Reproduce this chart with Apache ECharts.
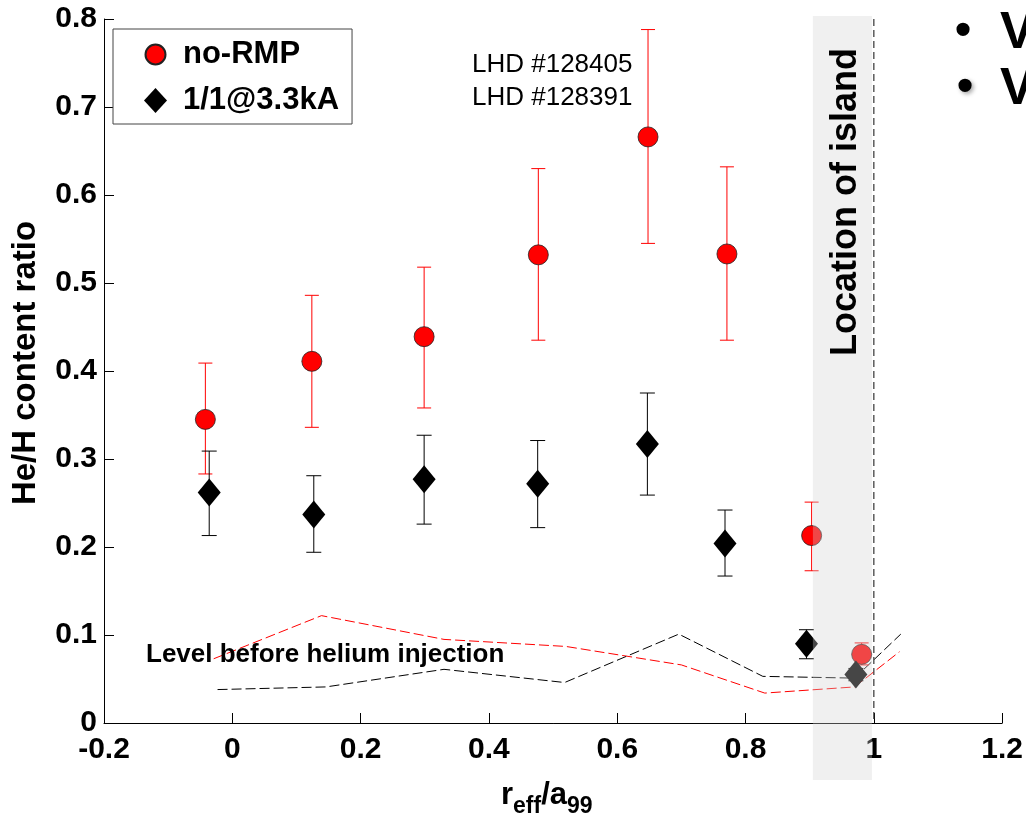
<!DOCTYPE html>
<html><head><meta charset="utf-8">
<script src="https://cdn.jsdelivr.net/npm/echarts@6/dist/echarts.min.js"></script>
<style>html,body{margin:0;padding:0;background:#fff}#c{width:1026px;height:820px}</style>
</head><body><div id="c"></div>
<script>
// ---- data ----
const seriesNames = ['no-RMP', '1/1@3.3kA'];
// no-RMP (red circles)
const xRmp  = [-0.042, 0.124, 0.299, 0.477, 0.648, 0.771, 0.903, 0.981];
const yRmp  = [0.345, 0.411, 0.439, 0.532, 0.666, 0.533, 0.213, 0.078];
const hiRmp = [0.409, 0.486, 0.518, 0.630, 0.788, 0.632, 0.251, 0.091];
const loRmp = [0.283, 0.336, 0.358, 0.435, 0.545, 0.435, 0.173, 0.066];
// 1/1@3.3kA (black diamonds)
const xIsl  = [-0.036, 0.127, 0.299, 0.476, 0.647, 0.768, 0.895, 0.972];
const yIsl  = [0.262, 0.237, 0.277, 0.272, 0.317, 0.204, 0.090, 0.055];
const hiIsl = [0.309, 0.281, 0.327, 0.321, 0.375, 0.242, 0.106, 0.062];
const loIsl = [0.213, 0.194, 0.226, 0.222, 0.259, 0.167, 0.073, 0.048];
// level before helium injection (dashed)
const xBaseRmp = [-0.029, 0.139, 0.33, 0.52, 0.70, 0.83, 0.97, 1.04];
const yBaseRmp = [0.073, 0.122, 0.095, 0.087, 0.066, 0.034, 0.041, 0.081];
const xBaseIsl = [-0.023, 0.146, 0.33, 0.518, 0.696, 0.827, 0.97, 1.042];
const yBaseIsl = [0.038, 0.041, 0.061, 0.046, 0.101, 0.053, 0.051, 0.101];
// island location
const islandBand = [0.905, 0.997];
const islandEdge = 1.0;
// axes
const xMin = -0.2, xMax = 1.2, xStep = 0.2;
const yMin = 0, yMax = 0.8, yStep = 0.1;
const shotLabels = ['LHD #128405', 'LHD #128391'];

const FONT = '"Liberation Sans", Arial, Helvetica, sans-serif';
const chart = echarts.init(document.getElementById('c'), null, {renderer: 'canvas'});

function fmt(v) {
  const r = Math.round(v * 10) / 10;
  return (r === 0 || r === 1) ? String(r) : r.toFixed(1);
}

function errRender(color, cap) {
  return function (params, api) {
    const x = api.value(0), lo = api.value(1), hi = api.value(2);
    const pHi = api.coord([x, hi]), pLo = api.coord([x, lo]);
    const style = {stroke: color, lineWidth: 1};
    return {type: 'group', children: [
      {type: 'line', shape: {x1: pHi[0], y1: pHi[1], x2: pLo[0], y2: pLo[1]}, style},
      {type: 'line', shape: {x1: pHi[0] - cap, y1: pHi[1], x2: pHi[0] + cap, y2: pHi[1]}, style},
      {type: 'line', shape: {x1: pLo[0] - cap, y1: pLo[1], x2: pLo[0] + cap, y2: pLo[1]}, style}
    ]};
  };
}

// legend icons: shapes inside a 23x25 box
const circleIcon = 'path://M0,0M23,25M1.5,12.5A10,10,0,1,1,21.5,12.5A10,10,0,1,1,1.5,12.5Z';
const diamondIcon = 'path://M11.5,0L23,12.5L11.5,25L0,12.5Z';

const option = {
  animation: false,
  backgroundColor: '#fff',
  grid: {left: 104, right: 22, top: 19, bottom: 97, containLabel: false},
  xAxis: {
    type: 'value', min: xMin, max: xMax, interval: xStep,
    axisLine: {onZero: false, lineStyle: {color: '#000', width: 1}},
    axisTick: {inside: true, length: 10, lineStyle: {color: '#000'}},
    splitLine: {show: false},
    axisLabel: {formatter: fmt, color: '#000', fontFamily: FONT, fontWeight: 'bold', fontSize: 30, margin: 12}
  },
  yAxis: {
    type: 'value', min: yMin, max: yMax, interval: yStep,
    axisLine: {show: true, onZero: false, lineStyle: {color: '#000', width: 1}},
    axisTick: {show: true, inside: true, length: 10, lineStyle: {color: '#000'}},
    splitLine: {show: false},
    axisLabel: {formatter: fmt, color: '#000', fontFamily: FONT, fontWeight: 'bold', fontSize: 30, margin: 7}
  },
  legend: {
    data: [{name: seriesNames[0], icon: circleIcon}, {name: seriesNames[1], icon: diamondIcon}],
    orient: 'vertical', left: 113, top: 29,
    itemWidth: 23, itemHeight: 25, itemGap: 15,
    padding: [10, 13, 8, 30],
    borderColor: '#444', borderWidth: 1, backgroundColor: '#fff',
    textStyle: {fontFamily: FONT, fontWeight: 'bold', fontSize: 31, color: '#000', lineHeight: 29, padding: [0, 0, 0, 11]},
    z: 20
  },
  series: [
    {name: 'baseRmp', type: 'line', data: xBaseRmp.map((x, i) => [x, yBaseRmp[i]]),
     symbol: 'none', lineStyle: {color: '#ff0000', width: 1, type: [10, 4]}, z: 2, silent: true},
    {name: 'baseIsl', type: 'line', data: xBaseIsl.map((x, i) => [x, yBaseIsl[i]]),
     symbol: 'none', lineStyle: {color: '#000', width: 1, type: [10, 4]}, z: 2, silent: true},
    {name: 'errRmp', type: 'custom', renderItem: errRender('#ff0000', 7),
     data: xRmp.map((x, i) => [x, loRmp[i], hiRmp[i]]), encode: {x: 0, y: [1, 2]}, z: 3, silent: true},
    {name: 'errIsl', type: 'custom', renderItem: errRender('#000', 7.5),
     data: xIsl.map((x, i) => [x, loIsl[i], hiIsl[i]]), encode: {x: 0, y: [1, 2]}, z: 3, silent: true},
    {name: seriesNames[0], type: 'scatter', data: xRmp.map((x, i) => [x, yRmp[i]]),
     symbol: 'circle', symbolSize: 20,
     itemStyle: {color: '#ff0000', borderColor: '#222', borderWidth: 0.8, opacity: 1}, z: 4},
    {name: seriesNames[1], type: 'scatter', data: xIsl.map((x, i) => [x, yIsl[i]]),
     symbol: 'diamond', symbolSize: [23, 28],
     itemStyle: {color: '#000', opacity: 1}, z: 4},
    {name: 'band', type: 'custom', clip: false, silent: true, z: 6,
     data: [[islandBand[0], islandBand[1]]], encode: {x: [0, 1]},
     renderItem: function (params, api) {
       const a = api.coord([api.value(0), yMax]);
       const b = api.coord([api.value(1), yMin]);
       return {type: 'rect', shape: {x: a[0], y: a[1] - 3, width: b[0] - a[0], height: b[1] - a[1] + 3 + 57},
               style: {fill: 'rgba(210,210,210,0.333)'}};
     }},
    {name: 'edge', type: 'custom', clip: false, silent: true, z: 7,
     data: [[islandEdge]], encode: {x: 0},
     renderItem: function (params, api) {
       const a = api.coord([api.value(0), yMax]);
       const b = api.coord([api.value(0), yMin]);
       return {type: 'line', shape: {x1: a[0], y1: a[1], x2: b[0], y2: b[1]},
               style: {stroke: '#333', lineWidth: 1.2, lineDash: [7, 4]}};
     }}
  ],
  graphic: [
    {type: 'text', z: 30, x: 26, y: 363, rotation: Math.PI / 2,
     style: {text: 'He/H content ratio', font: 'bold 33px ' + FONT, fill: '#000', align: 'center', verticalAlign: 'middle'}},
    {type: 'text', z: 30, x: 501, y: 780,
     style: {text: '{m|r}{s|eff}{m|/a}{s|99}', fill: '#000', align: 'left', verticalAlign: 'top',
       rich: {m: {fontFamily: FONT, fontWeight: 'bold', fontSize: 31, lineHeight: 31, verticalAlign: 'top', fill: '#000'},
              s: {fontFamily: FONT, fontWeight: 'bold', fontSize: 23, lineHeight: 23, verticalAlign: 'top', padding: [15, 0, 0, 0], fill: '#000'}}}},
    {type: 'text', z: 30, x: 846, y: 202, rotation: Math.PI / 2,
     style: {text: 'Location of island', font: 'bold 36px ' + FONT, fill: '#000', align: 'center', verticalAlign: 'middle'}},
    {type: 'text', z: 30, x: 472, y: 65,
     style: {text: shotLabels[0], font: '26px ' + FONT, fill: '#000', verticalAlign: 'middle'}},
    {type: 'text', z: 30, x: 472, y: 98,
     style: {text: shotLabels[1], font: '26px ' + FONT, fill: '#000', verticalAlign: 'middle'}},
    {type: 'text', z: 30, x: 146, y: 655,
     style: {text: 'Level before helium injection', font: 'bold 26px ' + FONT, fill: '#000', verticalAlign: 'middle'}},
    {type: 'text', z: 30, x: 963, y: 32,
     style: {text: '\u2022', font: 'bold 46px ' + FONT, fill: '#000', align: 'center', verticalAlign: 'middle'}},
    {type: 'text', z: 30, x: 965, y: 88,
     style: {text: '\u2022', font: 'bold 46px ' + FONT, fill: '#000', align: 'center', verticalAlign: 'middle',
             textShadowColor: 'rgba(0,0,0,0.35)', textShadowBlur: 4, textShadowOffsetX: 2, textShadowOffsetY: 2}},
    {type: 'text', z: 30, x: 1000, y: 34,
     style: {text: 'V', font: 'bold 52px ' + FONT, fill: '#000', verticalAlign: 'middle'}},
    {type: 'text', z: 30, x: 1000, y: 90,
     style: {text: 'V', font: 'bold 52px ' + FONT, fill: '#000', verticalAlign: 'middle'}}
  ]
};
chart.setOption(option);
</script>
</body></html>
